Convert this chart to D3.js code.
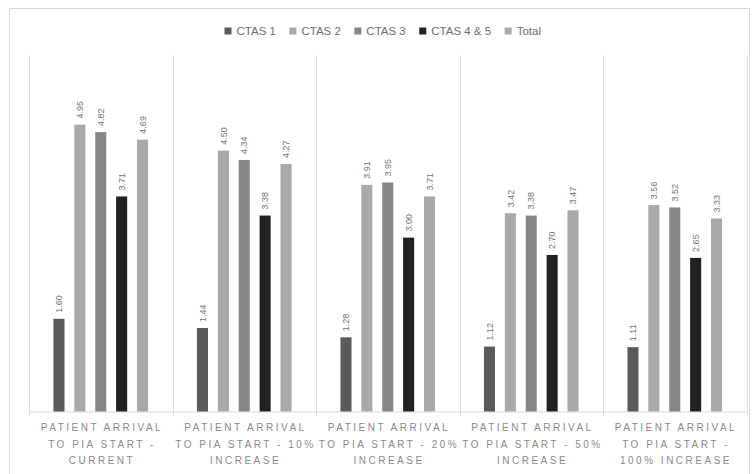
<!DOCTYPE html>
<html>
<head>
<meta charset="utf-8">
<script src="https://cdn.jsdelivr.net/npm/d3@7"></script>
<style>
  html, body { margin: 0; padding: 0; background: #ffffff; }
  svg { display: block; font-family: "Liberation Sans", Arial, sans-serif; }
</style>
</head>
<body>
<svg id="chart" width="752" height="474"></svg>
<script>
// Scenario categories (each label split into its printed lines)
const categories = [
  ["PATIENT ARRIVAL", "TO PIA START -", "CURRENT"],
  ["PATIENT ARRIVAL", "TO PIA START - 10%", "INCREASE"],
  ["PATIENT ARRIVAL", "TO PIA START - 20%", "INCREASE"],
  ["PATIENT ARRIVAL", "TO PIA START - 50%", "INCREASE"],
  ["PATIENT ARRIVAL", "TO PIA START -", "100% INCREASE"]
];

const seriesNames = ["CTAS 1", "CTAS 2", "CTAS 3", "CTAS 4 & 5", "Total"];
const seriesColors = ["#5a5a5a", "#a9a9a9", "#878787", "#222222", "#a9a9a9"];

// Hours per scenario, one array per series
const ctas1   = [1.60, 1.44, 1.28, 1.12, 1.11];
const ctas2   = [4.95, 4.50, 3.91, 3.42, 3.56];
const ctas3   = [4.82, 4.34, 3.95, 3.38, 3.52];
const ctas45  = [3.71, 3.38, 3.00, 2.70, 2.65];
const total   = [4.69, 4.27, 3.71, 3.47, 3.33];

const seriesValues = [ctas1, ctas2, ctas3, ctas45, total];

const svg = d3.select("#chart");

const plot = { left: 29, right: 746.5, top: 55, bottom: 411.5 };

// Outer chart frame
svg.append("path")
  .attr("d", `M9.5,480 V8.5 H749.5 V480`)
  .attr("fill", "none")
  .attr("stroke", "#d9d9d9")
  .attr("stroke-width", 1);

const catIdx = d3.range(categories.length);

const x0 = d3.scaleBand()
  .domain(catIdx)
  .range([plot.left, plot.right])
  .padding(0);

const x1 = d3.scaleBand()
  .domain(d3.range(seriesNames.length))
  .range([0, x0.bandwidth()])
  .paddingInner(0.47)
  .paddingOuter(1.17);

const y = d3.scaleLinear()
  .domain([0, 6.15])
  .range([plot.bottom, plot.top]);

// Vertical separators between categories
const bounds = catIdx.map(i => x0(i)).concat([plot.right]);
svg.append("g")
  .selectAll("line")
  .data(bounds)
  .join("line")
  .attr("x1", d => Math.round(d) + 0.5)
  .attr("x2", d => Math.round(d) + 0.5)
  .attr("y1", plot.top)
  .attr("y2", plot.bottom + 4)
  .attr("stroke", "#dedede")
  .attr("stroke-width", 1);

// Category axis line
svg.append("line")
  .attr("x1", plot.left).attr("x2", plot.right)
  .attr("y1", plot.bottom + 0.5).attr("y2", plot.bottom + 0.5)
  .attr("stroke", "#d9d9d9");

// Bars
const flat = [];
catIdx.forEach(ci => {
  seriesValues.forEach((vals, si) => {
    flat.push({ ci, si, v: vals[ci] });
  });
});

const gBars = svg.append("g");
gBars.selectAll("rect")
  .data(flat)
  .join("rect")
  .attr("x", d => x0(d.ci) + x1(d.si))
  .attr("y", d => y(d.v))
  .attr("width", x1.bandwidth())
  .attr("height", d => y(0) - y(d.v))
  .attr("fill", d => seriesColors[d.si]);

// Rotated value labels above each bar
gBars.selectAll("text")
  .data(flat)
  .join("text")
  .attr("transform", d => {
    const cx = x0(d.ci) + x1(d.si) + x1.bandwidth() / 2;
    const ty = y(d.v) - 6;
    return `translate(${cx},${ty}) rotate(-90)`;
  })
  .attr("dy", "0.35em")
  .attr("text-anchor", "start")
  .attr("font-size", 9)
  .attr("fill", "#747474")
  .text(d => d.v.toFixed(2));

// Category labels
const gCat = svg.append("g");
categories.forEach((lines, ci) => {
  const cx = x0(ci) + x0.bandwidth() / 2;
  lines.forEach((ln, li) => {
    gCat.append("text")
      .attr("x", cx + 1.25)
      .attr("y", 431 + li * 16.5)
      .attr("text-anchor", "middle")
      .attr("font-size", 10)
      .attr("letter-spacing", "2.5px")
      .attr("fill", "#8a8a8a")
      .text(ln);
  });
});

// Legend
const gLeg = svg.append("g");
let lx = 224.5;
seriesNames.forEach((name, i) => {
  gLeg.append("rect")
    .attr("x", lx)
    .attr("y", 27.5)
    .attr("width", 7)
    .attr("height", 7)
    .attr("fill", seriesColors[i]);
  const t = gLeg.append("text")
    .attr("x", lx + 12)
    .attr("y", 35)
    .attr("font-size", 11.5)
    .attr("fill", "#6e6e6e")
    .text(name);
  lx += 12 + t.node().getComputedTextLength() + 13.5;
});
</script>
</body>
</html>
